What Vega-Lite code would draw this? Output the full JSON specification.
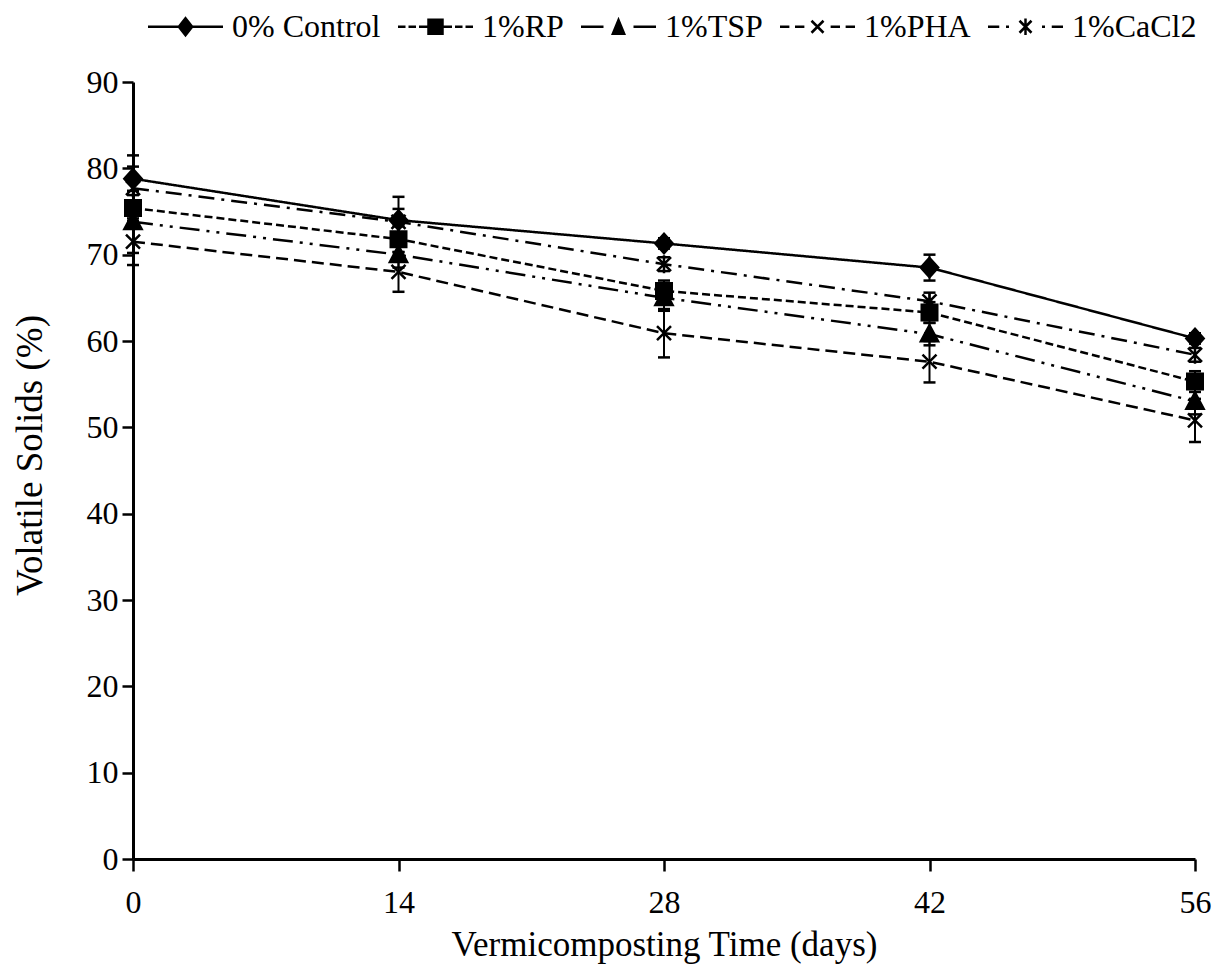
{
  "$schema": "https://vega.github.io/schema/vega-lite/v6.json",
  "autosize": "none",
  "width": 1062,
  "height": 777,
  "padding": {"left": 133, "top": 82, "right": 25, "bottom": 107},
  "background": "white",
  "data": {
    "values": [
      {"day": 0, "series": "0% Control", "value": 78.8, "lo": 76.1, "hi": 81.5},
      {"day": 14, "series": "0% Control", "value": 74.0, "lo": 71.3, "hi": 76.7},
      {"day": 28, "series": "0% Control", "value": 71.3, "lo": 70.7, "hi": 71.9},
      {"day": 42, "series": "0% Control", "value": 68.5, "lo": 67.0, "hi": 70.0},
      {"day": 56, "series": "0% Control", "value": 60.3, "lo": 59.7, "hi": 60.9},
      {"day": 0, "series": "1%RP", "value": 75.4, "lo": 73.9, "hi": 76.9},
      {"day": 14, "series": "1%RP", "value": 71.8, "lo": 70.3, "hi": 73.3},
      {"day": 28, "series": "1%RP", "value": 65.8, "lo": 64.6, "hi": 67.0},
      {"day": 42, "series": "1%RP", "value": 63.3, "lo": 62.1, "hi": 64.5},
      {"day": 56, "series": "1%RP", "value": 55.3, "lo": 54.1, "hi": 56.5},
      {"day": 0, "series": "1%TSP", "value": 73.8, "lo": 70.2, "hi": 77.4},
      {"day": 14, "series": "1%TSP", "value": 70.0, "lo": 68.5, "hi": 71.5},
      {"day": 28, "series": "1%TSP", "value": 65.0, "lo": 63.5, "hi": 66.5},
      {"day": 42, "series": "1%TSP", "value": 60.8, "lo": 59.5, "hi": 62.1},
      {"day": 56, "series": "1%TSP", "value": 53.0, "lo": 51.5, "hi": 54.5},
      {"day": 0, "series": "1%PHA", "value": 71.5, "lo": 68.8, "hi": 74.2},
      {"day": 14, "series": "1%PHA", "value": 68.0, "lo": 65.7, "hi": 70.3},
      {"day": 28, "series": "1%PHA", "value": 60.9, "lo": 58.1, "hi": 63.7},
      {"day": 42, "series": "1%PHA", "value": 57.6, "lo": 55.2, "hi": 60.0},
      {"day": 56, "series": "1%PHA", "value": 50.8, "lo": 48.3, "hi": 53.3},
      {"day": 0, "series": "1%CaCl2", "value": 77.7, "lo": 75.2, "hi": 80.2},
      {"day": 14, "series": "1%CaCl2", "value": 73.8, "lo": 72.3, "hi": 75.3},
      {"day": 28, "series": "1%CaCl2", "value": 68.9, "lo": 68.1, "hi": 69.7},
      {"day": 42, "series": "1%CaCl2", "value": 64.6, "lo": 63.6, "hi": 65.6},
      {"day": 56, "series": "1%CaCl2", "value": 58.4, "lo": 57.6, "hi": 59.2}
    ]
  },
  "encoding": {
    "x": {
      "field": "day", "type": "quantitative",
      "scale": {"domain": [0, 56], "nice": false, "zero": false},
      "axis": {
        "values": [0, 14, 28, 42, 56], "tickSize": 12, "labelPadding": 41,
        "labelBaseline": "alphabetic", "labelFlush": false,
        "title": "Vermicomposting Time (days)", "titleX": 531, "titleY": 96,
        "titleBaseline": "alphabetic", "titleAlign": "center", "titleFontSize": 35
      }
    }
  },
  "layer": [
    {
      "mark": {"type": "rule", "color": "black", "strokeWidth": 2},
      "encoding": {
        "y": {"field": "lo", "type": "quantitative", "scale": {"domain": [0, 90], "nice": false},
          "axis": {
            "values": [0, 10, 20, 30, 40, 50, 60, 70, 80, 90], "tickSize": 11, "labelPadding": 4,
            "labelFlush": false, "title": "Volatile Solids (%)", "titleAngle": -90,
            "titleX": -103, "titleY": 373, "titleAlign": "center", "titleBaseline": "middle", "titleFontSize": 37
          }},
        "y2": {"field": "hi"}
      }
    },
    {
      "mark": {"type": "tick", "orient": "horizontal", "color": "black", "size": 12, "thickness": 2.5, "opacity": 1},
      "encoding": {"y": {"field": "lo", "type": "quantitative"}}
    },
    {
      "mark": {"type": "tick", "orient": "horizontal", "color": "black", "size": 12, "thickness": 2.5, "opacity": 1},
      "encoding": {"y": {"field": "hi", "type": "quantitative"}}
    },
    {
      "mark": {"type": "line", "color": "black", "strokeWidth": 2.5},
      "encoding": {
        "y": {"field": "value", "type": "quantitative"},
        "strokeDash": {
          "field": "series", "type": "nominal", "legend": null,
          "scale": {
            "domain": ["0% Control", "1%RP", "1%TSP", "1%PHA", "1%CaCl2"],
            "range": [[1, 0], [8, 4], [20, 7, 3, 7, 3, 7], [12, 6], [16, 7, 3, 7]]
          }
        }
      }
    },
    {
      "transform": [{"filter": "datum.series == '0% Control'"}],
      "mark": {"type": "point", "shape": "M0,-1L0.9,0L0,1L-0.9,0Z", "filled": true, "opacity": 1, "size": 400, "fill": "black", "stroke": "black", "strokeWidth": 2},
      "encoding": {"y": {"field": "value", "type": "quantitative"}}
    },
    {
      "transform": [{"filter": "datum.series == '1%RP'"}],
      "mark": {"type": "point", "shape": "M-0.8,-0.8H0.8V0.8H-0.8Z", "filled": true, "opacity": 1, "size": 400, "fill": "black", "stroke": "black", "strokeWidth": 2},
      "encoding": {"y": {"field": "value", "type": "quantitative"}}
    },
    {
      "transform": [{"filter": "datum.series == '1%TSP'"}],
      "mark": {"type": "point", "shape": "M0,-0.95L0.9,0.75H-0.9Z", "filled": true, "opacity": 1, "size": 400, "fill": "black", "stroke": "black", "strokeWidth": 2},
      "encoding": {"y": {"field": "value", "type": "quantitative"}}
    },
    {
      "transform": [{"filter": "datum.series == '1%PHA'"}],
      "mark": {"type": "point", "shape": "M-0.7,-0.7L0.7,0.7M-0.7,0.7L0.7,-0.7", "filled": false, "opacity": 1, "size": 400, "stroke": "black", "strokeWidth": 2.5},
      "encoding": {"y": {"field": "value", "type": "quantitative"}}
    },
    {
      "transform": [{"filter": "datum.series == '1%CaCl2'"}],
      "mark": {"type": "point", "shape": "M-0.7,-0.7L0.7,0.7M-0.7,0.7L0.7,-0.7M0,-0.9V0.9", "filled": false, "opacity": 1, "size": 400, "stroke": "black", "strokeWidth": 2.5},
      "encoding": {"y": {"field": "value", "type": "quantitative"}}
    },
    {
      "transform": [{"filter": "datum.day < 0"}],
      "mark": {"type": "point", "filled": true, "opacity": 1, "size": 5625, "fill": "black", "stroke": "black", "strokeWidth": 2.5},
      "encoding": {
        "y": {"field": "value", "type": "quantitative"},
        "shape": {
          "field": "series", "type": "nominal",
          "scale": {
            "domain": ["0% Control", "1%RP", "1%TSP", "1%PHA", "1%CaCl2"],
            "range": [
              "M-1,-0.033H1V0.033H-1ZM0,-0.28L0.22,0L0,0.28L-0.22,0Z",
              "M-1,-0.033H-0.8V0.033H-1ZM-0.72,-0.033H-0.52V0.033H-0.72ZM-0.44,-0.033H-0.22V0.033H-0.44ZM-0.22,-0.22H0.22V0.22H-0.22ZM0.22,-0.033H0.44V0.033H0.22ZM0.52,-0.033H0.72V0.033H0.52ZM0.8,-0.033H1V0.033H0.8Z",
              "M-1,-0.033H-0.4V0.033H-1ZM0,-0.27L0.2,0.22H-0.2ZM0.4,-0.033H1V0.033H0.4Z",
              "M-1,-0.033H-0.75V0.033H-1ZM-0.6,-0.033H-0.35V0.033H-0.6ZM-0.184,-0.136L0.136,0.184L0.184,0.136L-0.136,-0.184ZM-0.184,0.136L-0.136,0.184L0.184,-0.136L0.136,-0.184ZM0.35,-0.033H0.6V0.033H0.35ZM0.75,-0.033H1V0.033H0.75Z",
              "M-1,-0.033H-0.7V0.033H-1ZM-0.52,-0.033H-0.44V0.033H-0.52ZM-0.184,-0.136L0.136,0.184L0.184,0.136L-0.136,-0.184ZM-0.184,0.136L-0.136,0.184L0.184,-0.136L0.136,-0.184ZM-0.033,-0.22V0.22H0.033V-0.22ZM0.44,-0.033H0.52V0.033H0.44ZM0.7,-0.033H1V0.033H0.7Z"
            ]
          },
          "legend": {
            "title": null, "orient": "none", "direction": "horizontal", "columns": 5,
            "legendX": 15, "legendY": -93, "padding": 0, "columnPadding": 17,
            "labelOffset": 9, "labelFont": "Liberation Serif", "labelFontSize": 32, "labelColor": "black",
            "symbolSize": 5625, "symbolStrokeWidth": 0, "symbolFillColor": "black"
          }
        }
      }
    }
  ],
  "resolve": {"scale": {"shape": "independent"}, "legend": {"shape": "independent"}},
  "config": {
    "view": {"stroke": null},
    "font": "Liberation Serif",
    "legend": {"labelFont": "Liberation Serif"},
    "axis": {
      "grid": false, "domainColor": "black", "domainWidth": 3, "tickColor": "black", "tickWidth": 2.5,
      "labelFont": "Liberation Serif", "labelFontSize": 32, "labelColor": "black",
      "titleFont": "Liberation Serif", "titleFontSize": 34, "titleFontWeight": "normal", "titleColor": "black"
    }
  }
}
